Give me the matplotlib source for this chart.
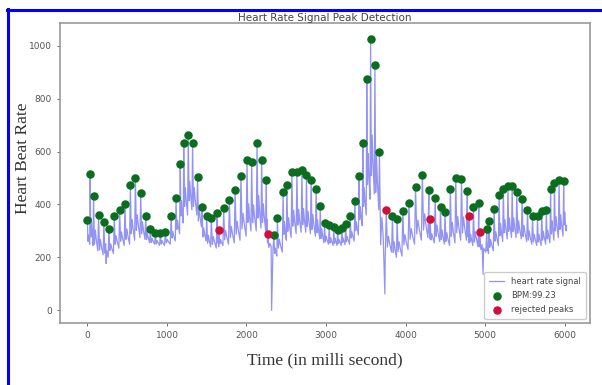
import matplotlib
matplotlib.use("Agg")
import matplotlib.pyplot as plt
from matplotlib.lines import Line2D
import numpy as np

# ---- data ----
green_t = [0, 34, 77, 140, 207, 270, 337, 405, 472, 540, 603, 670, 733, 791, 854, 917, 980,
           1052, 1114, 1167, 1211, 1268, 1322, 1385, 1442, 1500, 1558, 1631, 1713, 1785, 1857,
           1930, 2007, 2065, 2133, 2191, 2250, 2345, 2388, 2461, 2508, 2571, 2634, 2697, 2754,
           2813, 2876, 2928, 2982, 3040, 3098, 3146, 3199, 3247, 3305, 3363, 3415, 3463, 3513,
           3561, 3615, 3672, 3836, 3894, 3966, 4043, 4126, 4212, 4294, 4372, 4440, 4496, 4564,
           4632, 4704, 4777, 4854, 4922, 5023, 5047, 5114, 5177, 5230, 5288, 5341, 5399, 5466,
           5534, 5597, 5660, 5713, 5771, 5824, 5873, 5931, 5989]
green_v = [341, 516, 433, 362, 335, 309, 358, 380, 401, 472, 502, 443, 355, 306, 294, 293, 295,
           356, 424, 553, 633, 664, 633, 503, 391, 356, 350, 366, 386, 418, 454,
           509, 569, 560, 634, 570, 491, 286, 348, 448, 472, 522, 522, 532, 511,
           494, 459, 394, 329, 321, 316, 305, 313, 326, 355, 415, 507, 633, 875,
           1026, 927, 599, 356, 347, 377, 405, 465, 512, 455, 424, 391, 372, 459,
           501, 497, 452, 391, 404, 308, 337, 382, 437, 460, 470, 470, 449, 419,
           381, 355, 355, 377, 381, 459, 483, 493, 487]
red_t = [1655, 2267, 3758, 4309, 4801, 4931]
red_v = [303, 290, 378, 346, 355, 296]

# trough level after each peak (all peaks in time order)
trough_after = {
    0: 250, 34: 245, 77: 225, 140: 210, 207: 200, 270: 215, 337: 235, 405: 245, 472: 250,
    540: 265, 603: 275, 670: 268, 733: 255, 791: 250, 854: 245, 917: 245, 980: 250,
    1052: 262, 1114: 290, 1167: 330, 1211: 360, 1268: 380, 1322: 360, 1385: 315, 1442: 262,
    1500: 240, 1558: 235, 1631: 240, 1655: 245, 1713: 250, 1785: 255, 1857: 265, 1930: 280,
    2007: 300, 2065: 300, 2133: 310, 2191: 300, 2250: 255, 2267: 230, 2345: 205, 2388: 220,
    2461: 265, 2508: 275, 2571: 290, 2634: 295, 2697: 295, 2754: 290, 2813: 280, 2876: 270,
    2928: 255, 2982: 250, 3040: 245, 3098: 245, 3146: 245, 3199: 248, 3247: 250, 3305: 262,
    3363: 285, 3415: 320, 3463: 360, 3513: 420, 3561: 440, 3615: 380, 3672: 200, 3758: 220,
    3836: 200, 3894: 205, 3966: 230, 4043: 250, 4126: 265, 4212: 275, 4294: 270, 4309: 255,
    4372: 260, 4440: 250, 4496: 245, 4564: 255, 4632: 265, 4704: 265, 4777: 255, 4801: 245,
    4854: 240, 4922: 240, 4931: 220, 5023: 215, 5047: 225, 5114: 245, 5177: 260, 5230: 270,
    5288: 275, 5341: 275, 5399: 270, 5466: 260, 5534: 250, 5597: 245, 5660: 245, 5713: 250,
    5771: 255, 5824: 265, 5873: 275, 5931: 280, 5989: 300,
}
# deep dips in the signal
dip_t = [236, 2316, 3740, 4975]
dip_v = [177, 0, 62, 136]
end_t, end_v = 6025, 320

bpm_label = "BPM:99.23"

# ---- build signal vertices ----
peaks = sorted(list(zip(green_t, green_v)) + list(zip(red_t, red_v)))
vt, vv = [], []
for i, (t, p) in enumerate(peaks):
    nt = peaks[i + 1][0] if i + 1 < len(peaks) else end_t
    d = nt - t
    tr = trough_after[t]
    vt += [t, t + 0.18 * d, t + 0.35 * d, t + 0.55 * d, t + 0.85 * d]
    vv += [p, tr + 0.12 * (p - tr), tr + 0.38 * (p - tr), tr + 0.2 * (p - tr), tr]
vt += dip_t + [end_t]
vv += dip_v + [end_v]
order = np.argsort(vt, kind="stable")
sig_t = np.array(vt)[order]
sig_v = np.array(vv)[order]

# ---- figure ----
fig = plt.figure(figsize=(6.02, 3.85), dpi=100)
ax = fig.add_axes([60 / 602, 1 - 323 / 385, (590 - 60) / 602, (323 - 23.3) / 385])

ax.plot(sig_t, sig_v, color=(0.47, 0.47, 0.95), lw=0.9, alpha=0.8, label="heart rate signal")
ax.scatter(green_t, green_v, color="#0a6e1e", s=26, zorder=3, label=bpm_label)
ax.scatter(red_t, red_v, color="#d0103a", s=26, zorder=3, label="rejected peaks")

ax.set_xlim(-345, 6320)
ax.set_ylim(-48, 1085)
ax.set_xticks([0, 1000, 2000, 3000, 4000, 5000, 6000])
ax.set_yticks([0, 200, 400, 600, 800, 1000])
ax.tick_params(labelsize=6.5, colors="#555555", length=2.5, width=0.6)
for s in ax.spines.values():
    s.set_color("#999999")
    s.set_linewidth(1.2)

ax.set_title("Heart Rate Signal Peak Detection", fontsize=7.5, color="#444444", pad=2)
ax.set_xlabel("Time (in milli second)", fontsize=12.5, family="Liberation Serif",
              color="#333333", labelpad=9)
ax.set_ylabel("Heart Beat Rate", fontsize=12.5, family="Liberation Serif",
              color="#333333")
ax.yaxis.set_label_coords(-0.055, 0.55)

leg = ax.legend(loc="lower right", fontsize=6, frameon=True, framealpha=1,
                edgecolor="#cccccc", handlelength=1.8, borderpad=0.6, labelspacing=0.6)
for txt in leg.get_texts():
    txt.set_color("#444444")

# blue border of the screenshot
fig.add_artist(Line2D([7.5 / 602, 7.5 / 602], [0, 1 - 9 / 385], color="blue", lw=2.2,
                      transform=fig.transFigure))
fig.add_artist(Line2D([6.5 / 602, 1], [1 - 9.5 / 385, 1 - 9.5 / 385], color="blue", lw=2.2,
                      transform=fig.transFigure))

fig.savefig("out.png", dpi=100)
